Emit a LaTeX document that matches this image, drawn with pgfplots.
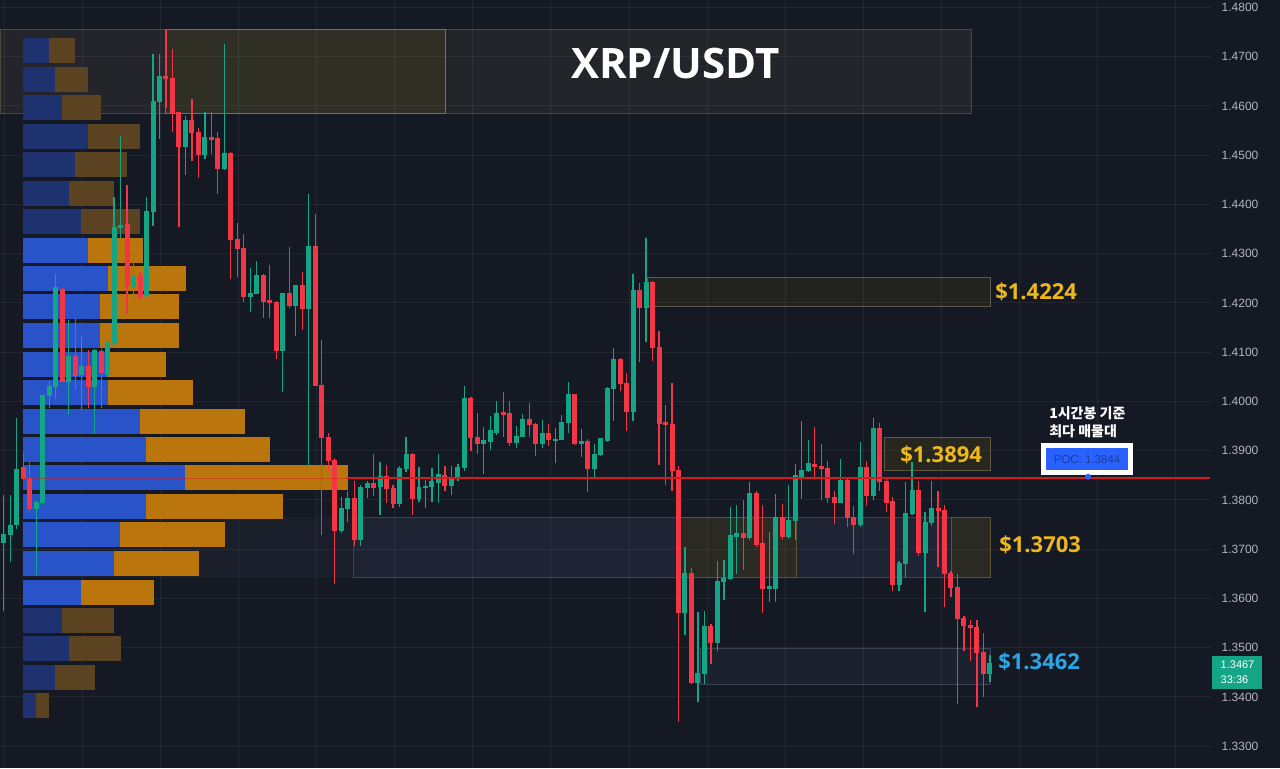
\documentclass[border=0pt]{standalone}
\usepackage{fontspec}
\setmainfont{Open Sans}
\newfontfamily\kr{Noto Sans CJK KR}
\newfontfamily\axf{Liberation Sans}
\usepackage{pgfplots}
\usepackage{pgfplotstable}
\pgfplotsset{compat=1.18}

\definecolor{bg}{HTML}{151924}
\definecolor{upc}{HTML}{14A587}
\definecolor{dnc}{HTML}{F23645}
\definecolor{pblue}{HTML}{2853C9}
\definecolor{porange}{HTML}{BA760C}
\definecolor{pbluedim}{HTML}{1F3270}
\definecolor{porangedim}{HTML}{5B4322}
\definecolor{gold}{HTML}{EFB81A}
\definecolor{lblue}{HTML}{2AA6E6}
\definecolor{pocred}{HTML}{D51B1B}
\definecolor{pocblue}{HTML}{2962FF}
\definecolor{poctext}{HTML}{1C3C9C}
\definecolor{axtext}{HTML}{B2B5BE}
\definecolor{topwide}{HTML}{23252A}
\definecolor{topwideb}{HTML}{4A4939}
\definecolor{topolive}{HTML}{302F26}
\definecolor{topoliveb}{HTML}{7A7240}
\definecolor{boxa}{HTML}{22231F}
\definecolor{boxab}{HTML}{5C5B4B}
\definecolor{boxb}{HTML}{272720}
\definecolor{boxbb}{HTML}{5F5945}
\definecolor{zoneL}{HTML}{1A1E2A}
\definecolor{zoneR}{HTML}{1E2434}
\definecolor{zoneb}{HTML}{3B4358}
\definecolor{zoneo}{HTML}{2A2922}
\definecolor{zoneob}{HTML}{5C5638}
\definecolor{boxc}{HTML}{1C2130}
\definecolor{boxcb}{HTML}{3A4256}

\pgfplotstableread{
i o h l c
0 1.3714 1.3810 1.3575 1.3729
1 1.3729 1.3810 1.3675 1.3749
2 1.3751 1.3966 1.3742 1.3862
3 1.3865 1.3898 1.3841 1.3843
4 1.3843 1.3878 1.3774 1.3782
5 1.3782 1.3797 1.3648 1.3795
6 1.3795 1.4014 1.3789 1.4012
7 1.4012 1.4041 1.3987 1.4030
8 1.4030 1.4258 1.4005 1.4231
9 1.4228 1.4231 1.4039 1.4041
10 1.4041 1.4166 1.3973 1.4091
11 1.4091 1.4169 1.4023 1.4053
12 1.4055 1.4132 1.3982 1.4070
13 1.4070 1.4104 1.3987 1.4030
14 1.4030 1.4106 1.3933 1.4104
15 1.4102 1.4107 1.3987 1.4059
16 1.4055 1.4126 1.4051 1.4120
17 1.4120 1.4416 1.4113 1.4353
18 1.4353 1.4540 1.4331 1.4357
19 1.4359 1.4440 1.4177 1.4235
20 1.4233 1.4303 1.4202 1.4255
21 1.4255 1.4262 1.4208 1.4213
22 1.4215 1.4416 1.4213 1.4385
23 1.4385 1.4706 1.4357 1.4609
24 1.4609 1.4706 1.4534 1.4660
25 1.4660 1.4755 1.4597 1.4656
26 1.4656 1.4715 1.4547 1.4584
27 1.4586 1.4588 1.4355 1.4518
28 1.4518 1.4580 1.4459 1.4571
29 1.4571 1.4615 1.4489 1.4547
30 1.4547 1.4556 1.4453 1.4502
31 1.4502 1.4588 1.4493 1.4536
32 1.4536 1.4588 1.4502 1.4532
33 1.4534 1.4547 1.4422 1.4473
34 1.4473 1.4726 1.4471 1.4504
35 1.4504 1.4506 1.4249 1.4329
36 1.4329 1.4362 1.4253 1.4310
37 1.4310 1.4339 1.4202 1.4213
38 1.4213 1.4271 1.4181 1.4220
39 1.4220 1.4285 1.4218 1.4256
40 1.4256 1.4258 1.4169 1.4204
41 1.4206 1.4278 1.4169 1.4200
42 1.4202 1.4204 1.4086 1.4103
43 1.4103 1.4221 1.4019 1.4219
44 1.4219 1.4314 1.4190 1.4195
45 1.4195 1.4237 1.4133 1.4235
46 1.4235 1.4262 1.4145 1.4188
47 1.4188 1.4421 1.3869 1.4314
48 1.4314 1.4380 1.4031 1.4033
49 1.4033 1.4125 1.3728 1.3927
50 1.3927 1.3935 1.3859 1.3881
51 1.3881 1.3886 1.3630 1.3738
52 1.3738 1.3805 1.3732 1.3783
53 1.3783 1.3819 1.3755 1.3802
54 1.3802 1.3839 1.3707 1.3719
55 1.3719 1.3831 1.3707 1.3826
56 1.3826 1.3839 1.3805 1.3833
57 1.3833 1.3894 1.3808 1.3826
58 1.3828 1.3876 1.3769 1.3847
59 1.3847 1.3872 1.3793 1.3823
60 1.3823 1.3831 1.3783 1.3793
61 1.3793 1.3869 1.3785 1.3864
62 1.3864 1.3928 1.3856 1.3893
63 1.3893 1.3895 1.3769 1.3802
64 1.3802 1.3867 1.3795 1.3825
65 1.3825 1.3841 1.3783 1.3828
66 1.3828 1.3865 1.3795 1.3837
67 1.3835 1.3894 1.3793 1.3851
68 1.3849 1.3869 1.3818 1.3829
69 1.3829 1.3869 1.3811 1.3844
70 1.3844 1.3873 1.3839 1.3866
71 1.3866 1.4032 1.3859 1.4006
72 1.4006 1.4010 1.3900 1.3927
73 1.3927 1.3976 1.3894 1.3915
74 1.3915 1.3948 1.3853 1.3921
75 1.3919 1.3970 1.3902 1.3941
76 1.3937 1.4001 1.3931 1.3976
77 1.3977 1.4020 1.3927 1.3974
78 1.3975 1.4001 1.3909 1.3917
79 1.3917 1.3951 1.3906 1.3929
80 1.3929 1.3974 1.3927 1.3963
81 1.3963 1.3996 1.3927 1.3953
82 1.3953 1.3957 1.3890 1.3914
83 1.3914 1.3963 1.3906 1.3935
84 1.3935 1.3955 1.3909 1.3923
85 1.3921 1.3946 1.3875 1.3923
86 1.3923 1.3972 1.3921 1.3958
87 1.3958 1.4039 1.3937 1.4014
88 1.4014 1.4016 1.3912 1.3914
89 1.3914 1.3944 1.3888 1.3919
90 1.3919 1.3924 1.3816 1.3864
91 1.3864 1.3913 1.3846 1.3893
92 1.3893 1.3926 1.3890 1.3924
93 1.3921 1.4030 1.3917 1.4026
94 1.4026 1.4108 1.3961 1.4086
95 1.4086 1.4089 1.4022 1.4036
96 1.4036 1.4057 1.3941 1.3980
97 1.3980 1.4258 1.3961 1.4225
98 1.4225 1.4241 1.4080 1.4190
99 1.4190 1.4333 1.4120 1.4241
100 1.4241 1.4245 1.4083 1.4110
101 1.4110 1.4144 1.3872 1.3956
102 1.3957 1.3992 1.3830 1.3953
103 1.3953 1.4037 1.3818 1.3859
104 1.3859 1.3869 1.3349 1.3572
105 1.3572 1.3704 1.3525 1.3650
106 1.3650 1.3661 1.3427 1.3430
107 1.3430 1.3572 1.3389 1.3447
108 1.3447 1.3574 1.3427 1.3543
109 1.3543 1.3548 1.3467 1.3511
110 1.3511 1.3677 1.3494 1.3634
111 1.3634 1.3677 1.3596 1.3641
112 1.3640 1.3785 1.3637 1.3728
113 1.3726 1.3789 1.3650 1.3732
114 1.3732 1.3799 1.3657 1.3723
115 1.3724 1.3837 1.3718 1.3813
116 1.3813 1.3819 1.3704 1.3710
117 1.3711 1.3789 1.3570 1.3620
118 1.3620 1.3734 1.3593 1.3625
119 1.3621 1.3813 1.3593 1.3764
120 1.3764 1.3791 1.3718 1.3726
121 1.3726 1.3831 1.3721 1.3758
122 1.3758 1.3873 1.3718 1.3849
123 1.3848 1.3961 1.3802 1.3859
124 1.3859 1.3921 1.3857 1.3873
125 1.3873 1.3948 1.3847 1.3868
126 1.3868 1.3913 1.3799 1.3863
127 1.3863 1.3879 1.3793 1.3806
128 1.3806 1.3819 1.3752 1.3795
129 1.3795 1.3883 1.3793 1.3840
130 1.3840 1.3847 1.3744 1.3764
131 1.3764 1.3787 1.3690 1.3751
132 1.3751 1.3917 1.3745 1.3866
133 1.3866 1.3880 1.3788 1.3808
134 1.3808 1.3967 1.3799 1.3946
135 1.3946 1.3957 1.3819 1.3838
136 1.3838 1.3844 1.3775 1.3795
137 1.3797 1.3805 1.3616 1.3628
138 1.3628 1.3677 1.3616 1.3671
139 1.3671 1.3836 1.3642 1.3773
140 1.3773 1.3876 1.3769 1.3819
141 1.3819 1.3838 1.3687 1.3694
142 1.3694 1.3775 1.3572 1.3755
143 1.3755 1.3839 1.3748 1.3782
144 1.3782 1.3819 1.3663 1.3779
145 1.3779 1.3789 1.3582 1.3651
146 1.3651 1.3655 1.3603 1.3622
147 1.3622 1.3650 1.3386 1.3559
148 1.3559 1.3565 1.3494 1.3544
149 1.3545 1.3556 1.3474 1.3542
150 1.3542 1.3556 1.3379 1.3491
151 1.3491 1.3529 1.3400 1.3447
152 1.3447 1.3485 1.3430 1.3467
}\candles

\pgfplotstableread{
y b s
1.4712 25.6 26.7
1.4654 32.3 32.7
1.4596 39.0 39.0
1.4539 64.6 52.7
1.4481 52.3 51.7
1.4423 45.6 45.7
1.4365 58.3 59.0
1.3556 39.0 52.3
1.3498 45.6 52.4
1.3440 32.3 39.7
1.3382 13.0 13.3
}\profdim

\pgfplotstableread{
y b s
1.4307 64.6 55.7
1.4250 84.6 78.4
1.4192 77.3 79.0
1.4134 77.3 79.0
1.4076 84.3 59.0
1.4018 84.6 85.0
1.3960 116.6 105.0
1.3903 123.3 124.0
1.3845 162.3 162.7
1.3787 123.3 136.7
1.3729 97.3 105.0
1.3671 90.6 85.7
1.3613 58.3 72.3
}\profbright

\begin{document}
\begin{tikzpicture}
\begin{axis}[
  scale only axis, width=1280pt, height=768pt,
  xmin=0, xmax=1280, ymin=1.32552, ymax=1.48142,
  axis lines=none, ticks=none, clip=false,
  axis background/.style={fill=bg},
]
% ---- boxes
\draw[fill=topwide, draw=topwideb, line width=1pt] (axis cs:0,1.4755) rectangle (axis cs:971,1.4584);
\draw[fill=topolive, draw=topoliveb, line width=1pt] (axis cs:165.5,1.4755) rectangle (axis cs:445,1.4584);
\draw[fill=boxa, draw=boxab, line width=1pt] (axis cs:647,1.4251) rectangle (axis cs:990,1.4192);
\draw[fill=boxb, draw=boxbb, line width=1pt] (axis cs:884,1.3926) rectangle (axis cs:990.5,1.3859);
\fill[zoneL] (axis cs:22,1.3765) rectangle (axis cs:353,1.3642);
\draw[fill=zoneR, draw=zoneb, line width=1pt] (axis cs:353,1.3765) rectangle (axis cs:990,1.3642);
\draw[fill=zoneo, draw=zoneob, line width=1pt] (axis cs:676,1.3765) rectangle (axis cs:796,1.3642);
\draw[fill=zoneo, draw=zoneob, line width=1pt] (axis cs:951.7,1.3765) rectangle (axis cs:990,1.3642);
\draw[fill=boxc, draw=boxcb, line width=1pt] (axis cs:700,1.3498) rectangle (axis cs:990,1.3425);
% ---- grid
\pgfplotsinvokeforeach{0,...,15}{
  \draw[white, opacity=0.06, line width=1pt] (axis cs:{4+78.1*#1},1.32552) -- (axis cs:{4+78.1*#1},1.48142);
}
\pgfplotsinvokeforeach{1.3300,1.3400,1.3500,1.3600,1.3700,1.3800,1.3900,1.4000,1.4100,1.4200,1.4300,1.4400,1.4500,1.4600,1.4700,1.4800}{
  \draw[white, opacity=0.06, line width=1pt] (axis cs:0,#1) -- (axis cs:1212,#1);
  \node[anchor=west, inner sep=0pt, text=axtext, font=\axf\fontsize{12}{14}\selectfont] at (axis cs:1221.5,#1) {#1};
}
% ---- volume profile
\addplot[draw=none, mark=none, forget plot, error bars/.cd, x dir=both, x explicit, error mark=none,
  error bar style={line width=25pt, color=pbluedim}]
  table[x expr={22.7+\thisrow{b}/2}, y=y, x error expr={\thisrow{b}/2}] {\profdim};
\addplot[draw=none, mark=none, forget plot, error bars/.cd, x dir=both, x explicit, error mark=none,
  error bar style={line width=25pt, color=porangedim}]
  table[x expr={22.7+\thisrow{b}+\thisrow{s}/2}, y=y, x error expr={\thisrow{s}/2}] {\profdim};
\addplot[draw=none, mark=none, forget plot, error bars/.cd, x dir=both, x explicit, error mark=none,
  error bar style={line width=25pt, color=pblue}]
  table[x expr={22.7+\thisrow{b}/2}, y=y, x error expr={\thisrow{b}/2}] {\profbright};
\addplot[draw=none, mark=none, forget plot, error bars/.cd, x dir=both, x explicit, error mark=none,
  error bar style={line width=25pt, color=porange}]
  table[x expr={22.7+\thisrow{b}+\thisrow{s}/2}, y=y, x error expr={\thisrow{s}/2}] {\profbright};
% ---- candles: wicks
\addplot[draw=none, mark=none, forget plot, restrict expr to domain={\thisrow{c}-\thisrow{o}}{0:1},
  error bars/.cd, y dir=both, y explicit, error mark=none, error bar style={line width=1.2pt, color=upc}]
  table[x expr={3.3+6.49*\thisrow{i}}, y expr={(\thisrow{h}+\thisrow{l})/2},
        y error plus expr={(\thisrow{h}-\thisrow{l})/2}, y error minus expr={(\thisrow{h}-\thisrow{l})/2}] {\candles};
\addplot[draw=none, mark=none, forget plot, restrict expr to domain={\thisrow{c}-\thisrow{o}}{-1:-0.00005},
  error bars/.cd, y dir=both, y explicit, error mark=none, error bar style={line width=1.2pt, color=dnc}]
  table[x expr={3.3+6.49*\thisrow{i}}, y expr={(\thisrow{h}+\thisrow{l})/2},
        y error plus expr={(\thisrow{h}-\thisrow{l})/2}, y error minus expr={(\thisrow{h}-\thisrow{l})/2}] {\candles};
% ---- candles: bodies
\addplot[draw=none, mark=none, forget plot, restrict expr to domain={\thisrow{c}-\thisrow{o}}{0:1},
  error bars/.cd, y dir=both, y explicit, error mark=none, error bar style={line width=5pt, color=upc}]
  table[x expr={3.3+6.49*\thisrow{i}}, y expr={(\thisrow{o}+\thisrow{c})/2},
        y error plus expr={abs(\thisrow{c}-\thisrow{o})/2+0.0001}, y error minus expr={abs(\thisrow{c}-\thisrow{o})/2+0.0001}] {\candles};
\addplot[draw=none, mark=none, forget plot, restrict expr to domain={\thisrow{c}-\thisrow{o}}{-1:-0.00005},
  error bars/.cd, y dir=both, y explicit, error mark=none, error bar style={line width=5pt, color=dnc}]
  table[x expr={3.3+6.49*\thisrow{i}}, y expr={(\thisrow{o}+\thisrow{c})/2},
        y error plus expr={abs(\thisrow{c}-\thisrow{o})/2+0.0001}, y error minus expr={abs(\thisrow{c}-\thisrow{o})/2+0.0001}] {\candles};
% ---- POC line
\draw[pocred, opacity=0.5, line width=1.5pt] (axis cs:22,1.3844) -- (axis cs:347,1.3844);
\draw[pocred, line width=2pt] (axis cs:347,1.3844) -- (axis cs:1210,1.3844);
% ---- labels
\node[text=white, font=\bfseries\fontsize{42}{50}\selectfont] at (axis cs:675,1.4686) {XRP/USDT};
\node[anchor=west, inner sep=0pt, text=gold, font=\bfseries\fontsize{22}{26}\selectfont] at (axis cs:995,1.4222) {\$1.4224};
\node[anchor=west, inner sep=0pt, text=gold, font=\bfseries\fontsize{22}{26}\selectfont] at (axis cs:900,1.3891) {\$1.3894};
\node[anchor=west, inner sep=0pt, text=gold, font=\bfseries\fontsize{22}{26}\selectfont] at (axis cs:999,1.3708) {\$1.3703};
\node[anchor=west, inner sep=0pt, text=lblue, font=\bfseries\fontsize{22}{26}\selectfont] at (axis cs:998,1.3472) {\$1.3462};
\node[anchor=west, inner sep=0pt, text=white, font=\kr\bfseries\fontsize{14}{16}\selectfont] at (axis cs:1049,1.3976) {1시간봉 기준};
\node[anchor=west, inner sep=0pt, text=white, font=\kr\bfseries\fontsize{14}{16}\selectfont] at (axis cs:1049,1.3939) {최다 매물대};
\fill[white] (axis cs:1040.7,1.3915) rectangle (axis cs:1132.7,1.3850);
\fill[pocblue] (axis cs:1046,1.3906) rectangle (axis cs:1128.3,1.3860);
\node[text=poctext, inner sep=0pt, font=\axf\fontsize{11.5}{13}\selectfont] at (axis cs:1087,1.3883) {POC: 1.3844};
\fill[pocblue] (axis cs:1088,1.3847) circle[radius=3pt];
\fill[upc] (axis cs:1211.7,1.3483) rectangle (axis cs:1262.3,1.3417);
\node[anchor=west, inner sep=0pt, text=white, font=\axf\fontsize{11}{13}\selectfont] at (axis cs:1220.5,1.3466) {1.3467};
\node[anchor=west, inner sep=0pt, text=white, font=\axf\fontsize{11}{13}\selectfont] at (axis cs:1220.5,1.3434) {33:36};
\end{axis}
\end{tikzpicture}
\end{document}
